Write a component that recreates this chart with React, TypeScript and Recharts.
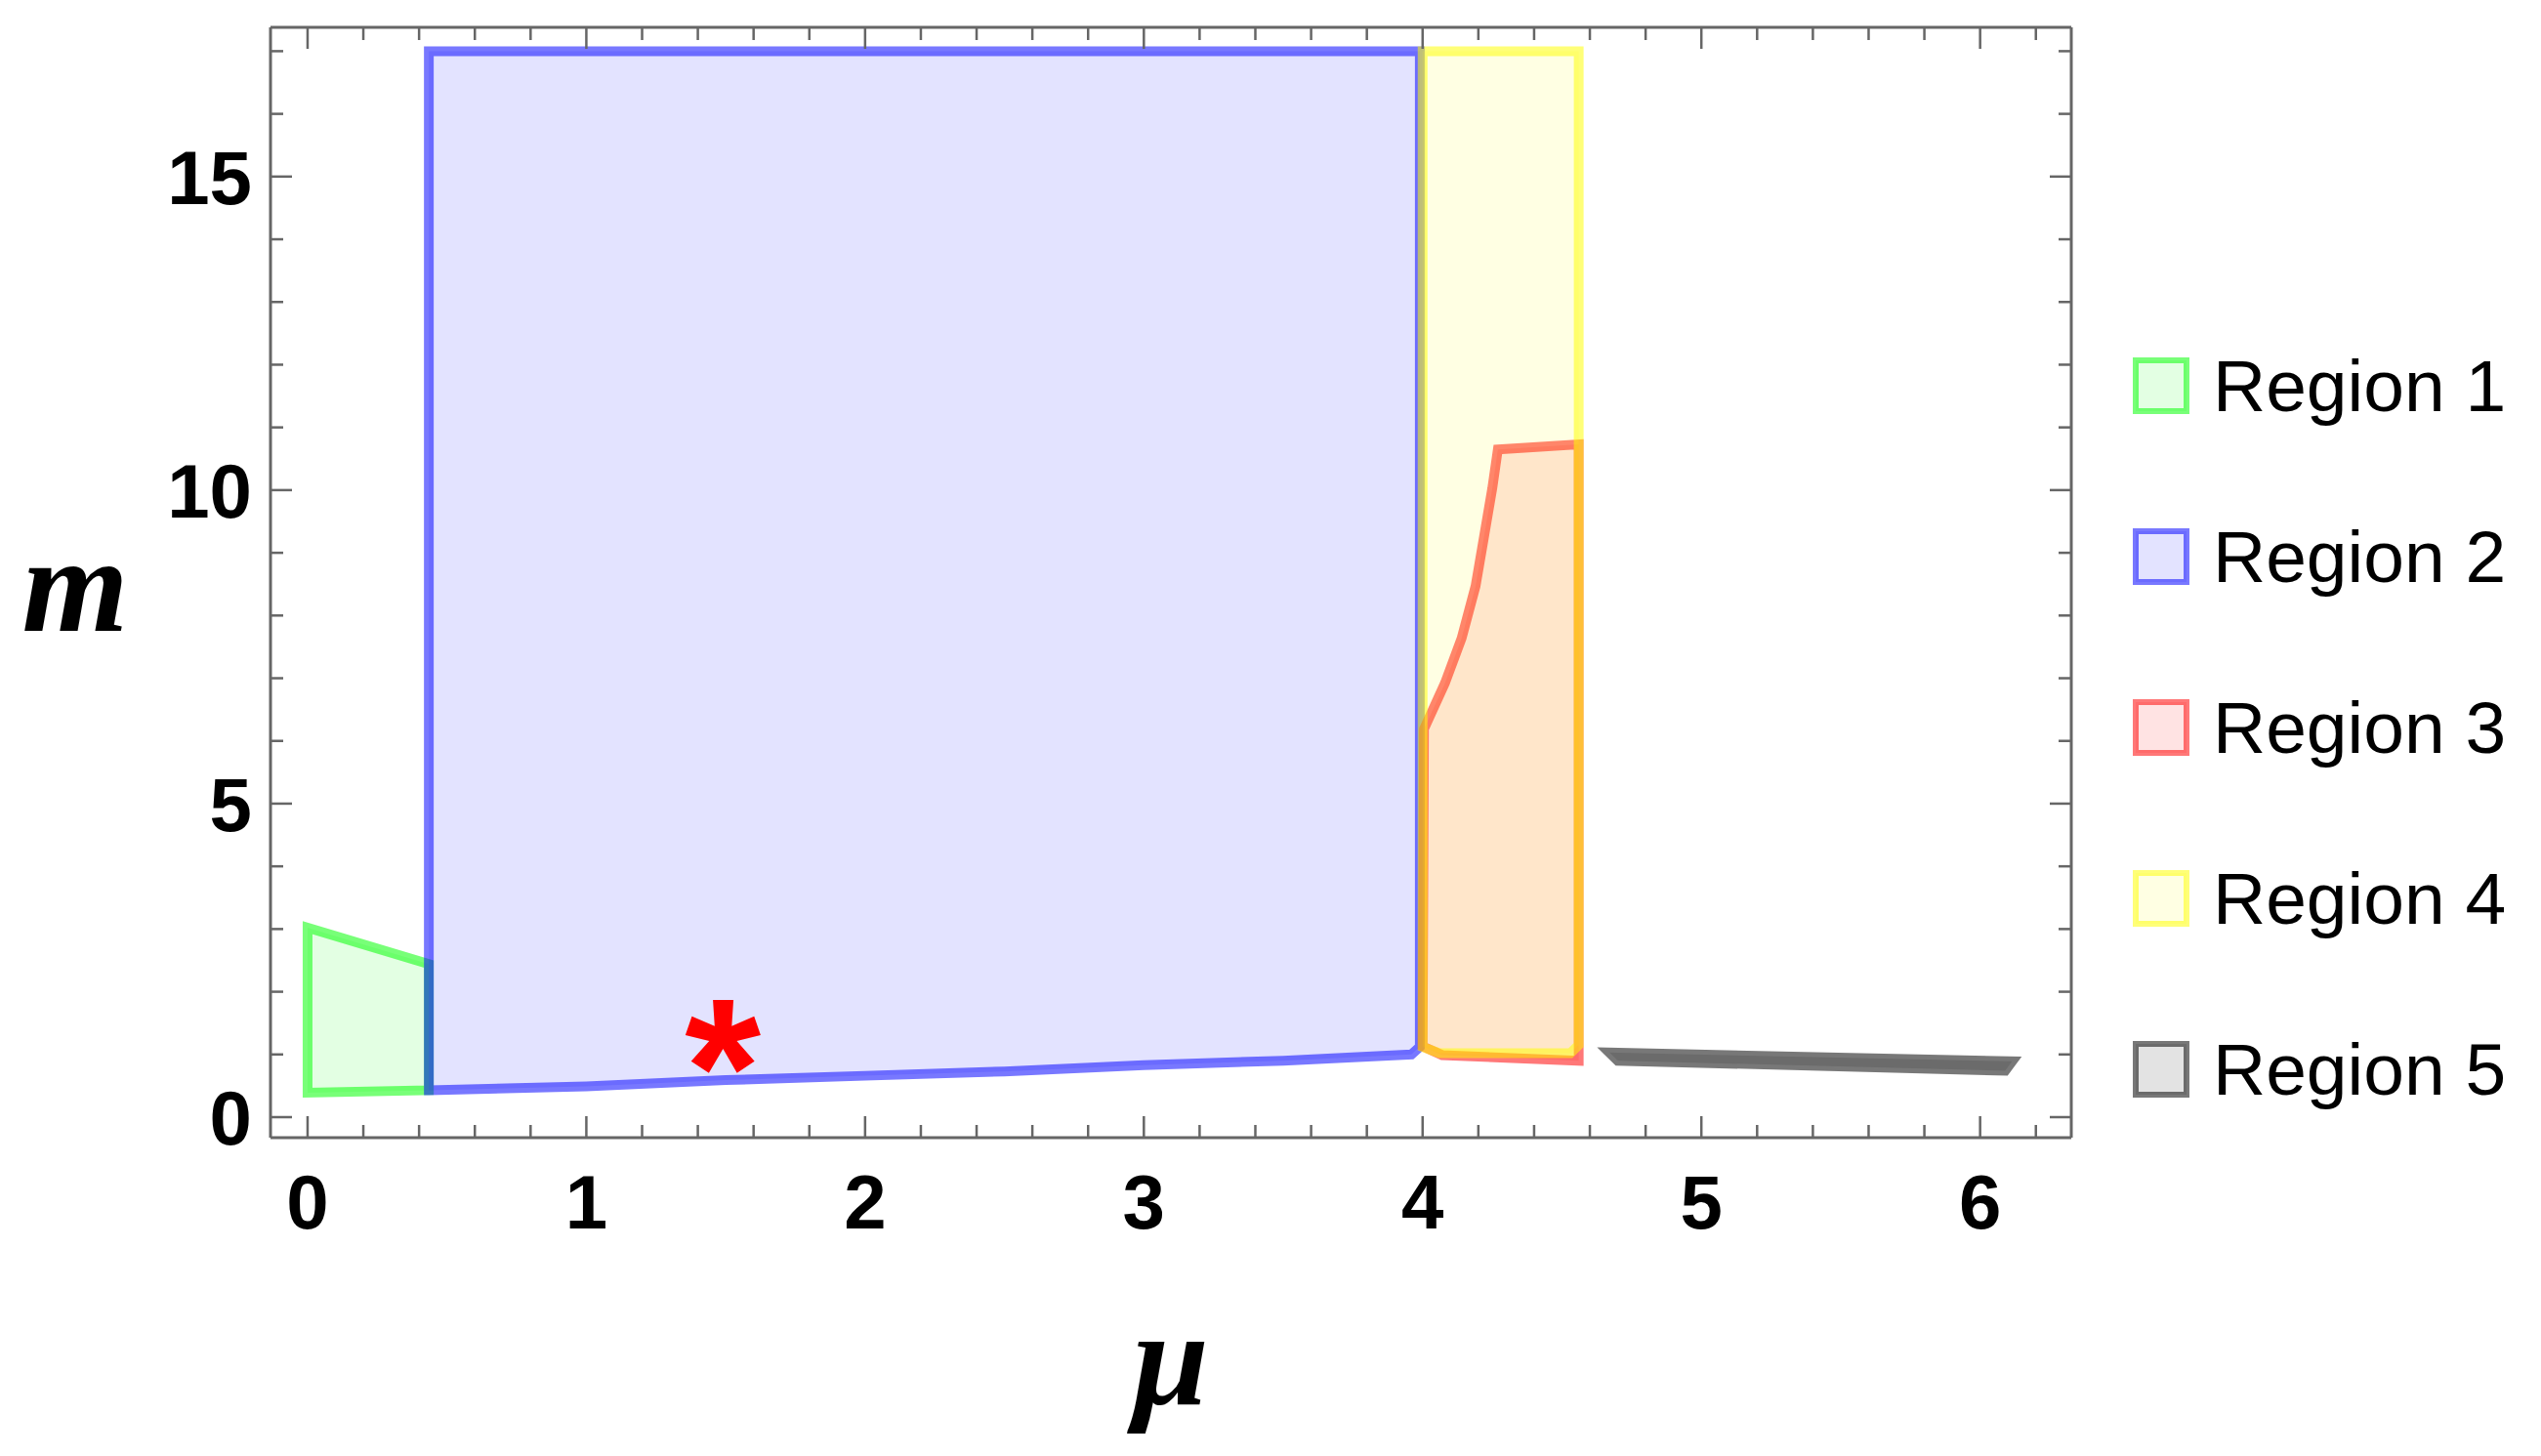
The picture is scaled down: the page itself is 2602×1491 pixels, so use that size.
import React from "react";
import { ComposedChart, Legend, Scatter, XAxis, YAxis } from "recharts";

// region boundaries (mu, m), in drawing order
const region1Mu = [0, 0, 0.435, 0.435];
const region1M = [0.39, 3.02, 2.44, 0.43];

const region2Mu = [0.435, 1.0, 1.5, 2.0, 2.5, 3.0, 3.5, 3.96, 3.99, 3.99, 0.435];
const region2M = [0.43, 0.49, 0.59, 0.66, 0.73, 0.83, 0.9, 1.0, 1.12, 17.0, 17.0];

const region3Mu = [4.0, 4.07, 4.56, 4.56, 4.27, 4.25, 4.22, 4.19, 4.14, 4.08, 4.005];
const region3M = [1.13, 0.99, 0.9, 10.73, 10.65, 10.03, 9.25, 8.47, 7.64, 6.92, 6.19];

const region4Mu = [4.0, 4.06, 4.53, 4.56, 4.56, 4.0];
const region4M = [1.12, 1.02, 1.02, 1.15, 17.0, 17.0];

const region5Mu = [4.67, 4.7, 6.09, 6.115];
const region5M = [1.03, 0.9, 0.74, 0.89];

const starMu = [1.49];
const starM = [1.22];

const regionNames = ["Region 1", "Region 2", "Region 3", "Region 4", "Region 5"];
const regionColors = ["#00ff00", "#0000ff", "#ff0000", "#ffff00", "#000000"];

const xMajor = [0, 1, 2, 3, 4, 5, 6];
const yMajor = [0, 5, 10, 15];
const xTicks = Array.from({ length: 32 }, (_, i) => +(i * 0.2).toFixed(1));
const yTicks = Array.from({ length: 18 }, (_, i) => i);

const FRAME = "#666666";
const STROKE_OP = 0.53;
const FILL_OP = 0.11;
const TICK_FONT = "'Liberation Sans', Arial, Helvetica, sans-serif";
const LABEL_FONT = "'Liberation Serif', 'Times New Roman', serif";

const toPoints = (mu: number[], m: number[]) => mu.map((x, i) => ({ x, y: m[i] }));

const regions = [
  toPoints(region1Mu, region1M),
  toPoints(region2Mu, region2M),
  toPoints(region3Mu, region3M),
  toPoints(region4Mu, region4M),
  toPoints(region5Mu, region5M),
];
const starData = toPoints(starMu, starM);

const NoDot = () => <g />;

function polygonLine(color: string) {
  return (props: any) => {
    const pts = props.points || [];
    if (!pts.length) return <g />;
    const d = "M" + pts.map((p: any) => `${p.x},${p.y}`).join("L") + "Z";
    return (
      <path
        d={d}
        fill={color}
        fillOpacity={FILL_OP}
        stroke={color}
        strokeOpacity={STROKE_OP}
        strokeWidth={10}
        strokeLinejoin="miter"
      />
    );
  };
}

function StarShape(props: any) {
  const { cx, cy } = props;
  return (
    <text
      x={cx}
      y={cy + 96}
      textAnchor="middle"
      fontFamily={TICK_FONT}
      fontWeight="bold"
      fontSize={200}
      fill="#ff0000"
    >
      *
    </text>
  );
}

function BottomTick({ x, y, payload }: any) {
  const major = xMajor.includes(payload.value);
  return (
    <g>
      <line x1={x} x2={x} y1={y} y2={y - (major ? 22 : 13)} stroke={FRAME} strokeWidth={2.5} />
      {major && (
        <text x={x} y={y + 93} textAnchor="middle" fontFamily={TICK_FONT} fontWeight="bold" fontSize={78} fill="#000">
          {payload.value}
        </text>
      )}
    </g>
  );
}

function TopTick({ x, y, payload }: any) {
  const major = xMajor.includes(payload.value);
  return <line x1={x} x2={x} y1={y} y2={y + (major ? 22 : 13)} stroke={FRAME} strokeWidth={2.5} />;
}

function LeftTick({ x, y, payload }: any) {
  const major = yMajor.includes(payload.value);
  return (
    <g>
      <line x1={x} x2={x + (major ? 22 : 13)} y1={y} y2={y} stroke={FRAME} strokeWidth={2.5} />
      {major && (
        <text x={x - 19} y={y + 28} textAnchor="end" fontFamily={TICK_FONT} fontWeight="bold" fontSize={78} fill="#000">
          {payload.value}
        </text>
      )}
    </g>
  );
}

function RightTick({ x, y, payload }: any) {
  const major = yMajor.includes(payload.value);
  return <line x1={x} x2={x - (major ? 22 : 13)} y1={y} y2={y} stroke={FRAME} strokeWidth={2.5} />;
}

function RegionLegend() {
  return (
    <div style={{ position: "relative", width: 418, height: 820 }}>
      {regionNames.map((name, i) => (
        <div key={name} style={{ position: "absolute", left: 0, top: 26 + i * 175, height: 58, display: "flex", alignItems: "center" }}>
          <svg width={58} height={58} style={{ display: "block" }}>
            <rect x={3} y={3} width={52} height={52} fill="#fff" />
            <rect
              x={3}
              y={3}
              width={52}
              height={52}
              fill={regionColors[i]}
              fillOpacity={FILL_OP}
              stroke={regionColors[i]}
              strokeOpacity={STROKE_OP}
              strokeWidth={6}
            />
          </svg>
          <span style={{ marginLeft: 24, fontFamily: TICK_FONT, fontSize: 75, lineHeight: "58px", color: "#000", whiteSpace: "nowrap" }}>
            {name}
          </span>
        </div>
      ))}
    </div>
  );
}

export default function App() {
  return (
    <div style={{ position: "absolute", left: 0, top: 0, width: 2602, height: 1491, background: "#fff" }}>
      <ComposedChart width={2602} height={1491} margin={{ top: 27, right: 480, bottom: 226, left: 127 }}>
        <XAxis
          xAxisId="b"
          dataKey="x"
          type="number"
          domain={[-0.133, 6.327]}
          allowDataOverflow
          ticks={xTicks}
          interval={0}
          height={100}
          tickSize={0}
          tickMargin={0}
          tick={<BottomTick />}
          axisLine={{ stroke: FRAME, strokeWidth: 3 }}
          tickLine={false}
          label={{
            content: () => (
              <text x={1199} y={1438} textAnchor="middle" fontFamily={LABEL_FONT} fontStyle="italic" fontWeight="bold" fontSize={140} fill="#000">
                μ
              </text>
            ),
          }}
        />
        <XAxis
          xAxisId="t"
          orientation="top"
          dataKey="x"
          type="number"
          domain={[-0.133, 6.327]}
          allowDataOverflow
          ticks={xTicks}
          interval={0}
          height={1}
          tickSize={0}
          tickMargin={0}
          tick={<TopTick />}
          axisLine={{ stroke: FRAME, strokeWidth: 3 }}
          tickLine={false}
        />
        <YAxis
          yAxisId="l"
          dataKey="y"
          type="number"
          domain={[-0.327, 17.38]}
          allowDataOverflow
          ticks={yTicks}
          interval={0}
          width={150}
          tickSize={0}
          tickMargin={0}
          tick={<LeftTick />}
          axisLine={{ stroke: FRAME, strokeWidth: 3 }}
          tickLine={false}
          label={{
            content: () => (
              <text x={77} y={646} textAnchor="middle" fontFamily={LABEL_FONT} fontStyle="italic" fontWeight="bold" fontSize={140} fill="#000">
                m
              </text>
            ),
          }}
        />
        <YAxis
          yAxisId="r"
          orientation="right"
          dataKey="y"
          type="number"
          domain={[-0.327, 17.38]}
          allowDataOverflow
          ticks={yTicks}
          interval={0}
          width={1}
          tickSize={0}
          tickMargin={0}
          tick={<RightTick />}
          axisLine={{ stroke: FRAME, strokeWidth: 3 }}
          tickLine={false}
        />
        {regions.map((pts, i) => (
          <Scatter
            key={regionNames[i]}
            name={regionNames[i]}
            xAxisId="b"
            yAxisId="l"
            data={pts}
            fill={regionColors[i]}
            shape={NoDot}
            line={polygonLine(regionColors[i])}
            lineType="joint"
            isAnimationActive={false}
          />
        ))}
        <Scatter
          name="marker"
          xAxisId="b"
          yAxisId="l"
          data={starData}
          fill="#ff0000"
          shape={StarShape}
          isAnimationActive={false}
        />
        <Legend
          layout="vertical"
          align="center"
          verticalAlign="middle"
          wrapperStyle={{ left: 2184, top: 340, width: 418, height: 820 }}
          content={() => <RegionLegend />}
        />
      </ComposedChart>
    </div>
  );
}
